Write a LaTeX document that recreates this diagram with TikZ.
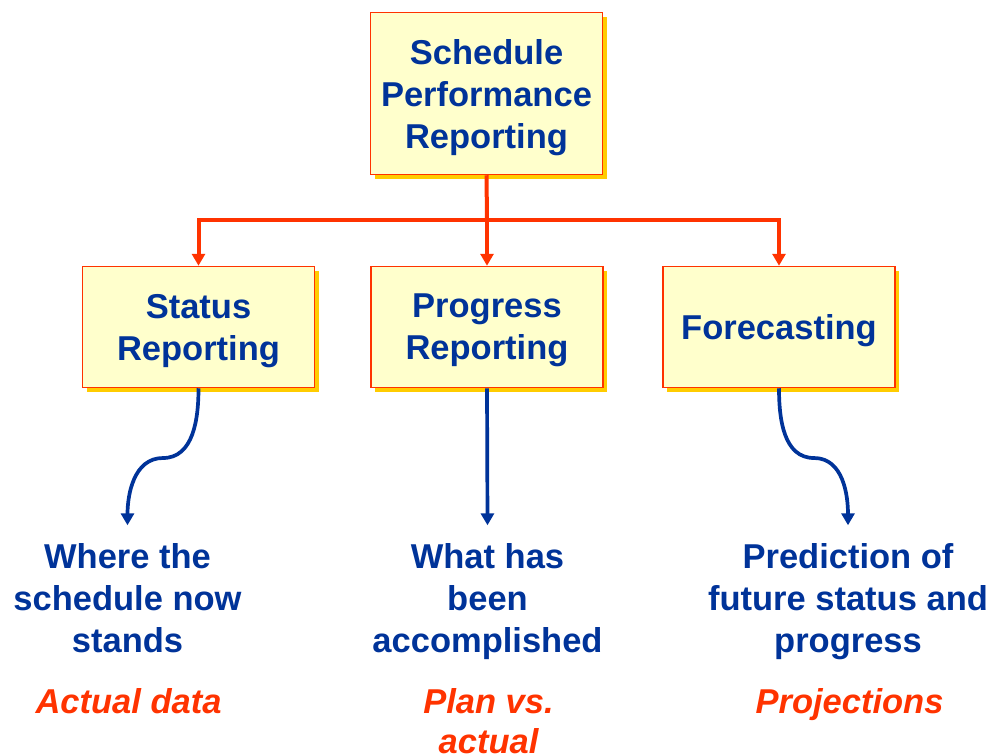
\documentclass[tikz,border=0pt]{standalone}
\usepackage{fontspec}
\setmainfont{Liberation Sans}
\usetikzlibrary{shadows,arrows.meta}
\definecolor{txtblue}{HTML}{003399}
\definecolor{lnred}{HTML}{FF3300}
\definecolor{boxfill}{HTML}{FFFFCC}
\definecolor{shad}{HTML}{FFCC00}
\begin{document}
\begin{tikzpicture}[x=1pt,y=-1pt,
  box/.style={draw=lnred, line width=1.5pt, fill=boxfill, minimum width=232pt,
    inner sep=0pt, align=center, text=txtblue,
    font=\bfseries\fontsize{34.5}{42}\selectfont, text depth=0pt,
    drop shadow={shadow xshift=4pt, shadow yshift=-4pt, fill=shad, opacity=1}},
  bluetext/.style={inner sep=0pt, align=center, text=txtblue,
    font=\bfseries\fontsize{34.5}{42}\selectfont},
  redtext/.style={inner sep=0pt, align=center, text=lnred,
    font=\bfseries\itshape\fontsize{34.5}{40}\selectfont},
  redln/.style={draw=lnred, line width=4pt, line join=miter},
  redarr/.style={redln, -{Triangle[length=12pt,width=13pt]}},
  bluearr/.style={draw=txtblue, line width=3.7pt, -{Triangle[length=12pt,width=13pt]}}
]
\useasboundingbox (0,0) rectangle (995,755);

\node[box, minimum height=162pt] (top) at (486.5,93.5) {Schedule\\Performance\\Reporting};
\node[box, minimum height=121pt] (status) at (198.5,327) {Status\\Reporting};
\node[box, minimum height=121pt] (progress) at (487,327) {Progress\\Reporting};
\node[box, minimum height=121pt] (forecast) at (779,327) {Forecasting};

\coordinate (bus) at (487,220);
\draw[redln] (top.south) -- (bus);
\draw[redarr] (bus) -| (status.north);
\draw[redarr] (bus) -- (progress.north);
\draw[redarr] (bus) -| (forecast.north);

\node[bluetext, anchor=north] (where) at (127.5,543.3) {Where the\\schedule now\\stands};
\node[bluetext, anchor=north] (what) at (487.5,543.3) {What has\\been\\accomplished};
\node[bluetext, anchor=north] (pred) at (848,543.3) {Prediction of\\future status and\\progress};

\coordinate (smid) at (163,458);
\coordinate (fmid) at (814,458);
\draw[bluearr] (status.south) to[out=-90,in=0] (smid) to[out=180,in=90] ([yshift=18pt]where.north);
\draw[bluearr] (progress.south) -- ([yshift=18pt]what.north);
\draw[bluearr] (forecast.south) to[out=-90,in=180] (fmid) to[out=0,in=90] ([yshift=18pt]pred.north);

\node[redtext, anchor=base] (actual) at (128.5,713) {Actual data};
\node[redtext, anchor=north] (plan) at (488.5,688.3) {Plan vs.\\actual};
\node[redtext, anchor=base] (proj) at (849.5,713) {Projections};
\end{tikzpicture}
\end{document}
